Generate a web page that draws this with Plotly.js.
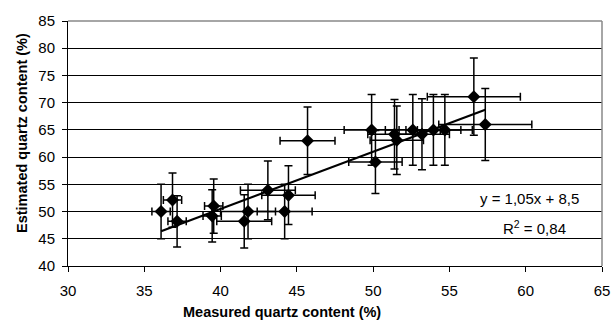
<!DOCTYPE html>
<html><head><meta charset="utf-8">
<script src="https://cdn.plot.ly/plotly-3.0.1.min.js"></script>
<style>html,body{margin:0;padding:0;background:#fff}#chart{width:611px;height:332px}</style>
</head><body><div id="chart"></div>
<script>
const measured = [36.1, 36.85, 37.15, 39.55, 39.45, 41.55, 41.8, 43.1, 44.45, 44.2, 45.7, 49.9, 50.15, 51.4, 51.55, 52.6, 53.2, 53.95, 54.7, 56.6, 57.35];
const estimated = [50.0, 52.1, 48.2, 51.0, 49.2, 48.2, 50.0, 53.9, 53.0, 50.0, 63.0, 65.0, 59.1, 64.2, 63.1, 65.0, 64.2, 65.0, 65.0, 71.1, 66.0];
const estimatedErr = [5.0, 5.0, 4.7, 5.0, 4.8, 4.9, 5.0, 5.4, 5.4, 5.0, 6.2, 6.5, 5.8, 6.4, 6.3, 6.5, 6.5, 6.5, 6.5, 7.1, 6.6];
const measuredErr = [0.6, 0.6, 0.6, 0.6, 0.6, 1.8, 1.8, 1.8, 1.75, 1.8, 1.8, 1.8, 1.75, 1.75, 1.75, 1.8, 1.8, 1.8, 1.8, 3.05, 3.05];
const trendX = [36.1, 57.35];
const trendY = [46.4, 68.7];
const eqText = 'y = 1,05x + 8,5';
const r2Text = 'R<sup>2</sup> = 0,84';
const xTitle = 'Measured quartz content (%)';
const yTitle = 'Estimated quartz content (%)';

const font = 'Liberation Sans, Arial, sans-serif';
const data = [
  {x: measured, y: estimated, type: 'scatter', mode: 'markers',
   marker: {symbol: 'diamond', size: 10, color: '#000'},
   error_y: {type: 'data', array: estimatedErr, visible: true, color: '#000', thickness: 1.5, width: 4},
   error_x: {type: 'data', array: measuredErr, visible: true, color: '#000', thickness: 1.5, width: 4},
   showlegend: false},
  {x: trendX, y: trendY, type: 'scatter', mode: 'lines',
   line: {color: '#000', width: 2.2}, showlegend: false}
];
const layout = {
  width: 611, height: 332,
  margin: {l: 68, r: 9, t: 21, b: 66},
  paper_bgcolor: '#fff', plot_bgcolor: '#fff',
  font: {family: font, size: 15, color: '#000'},
  xaxis: {range: [30, 65], tick0: 30, dtick: 5, showgrid: false, zeroline: false,
    showline: true, linecolor: '#000', linewidth: 1, ticks: 'outside', ticklen: 5, tickcolor: '#000',
    tickfont: {size: 15}, ticklabelstandoff: 6},
  yaxis: {range: [40, 85], tick0: 40, dtick: 5, showgrid: true, gridcolor: '#000', gridwidth: 1, zeroline: false,
    showline: true, linecolor: '#000', linewidth: 1, ticks: 'outside', ticklen: 5, tickcolor: '#000',
    tickfont: {size: 15}, ticklabelstandoff: 4},
  shapes: [
    {type: 'line', xref: 'paper', yref: 'paper', x0: 0, x1: 1, y0: 1, y1: 1, line: {color: '#888', width: 1.5}},
    {type: 'line', xref: 'paper', yref: 'paper', x0: 1, x1: 1, y0: 0, y1: 1, line: {color: '#888', width: 1.5}}
  ],
  annotations: [
    {x: 60.28, y: 52.46, xref: 'x', yref: 'y', text: eqText, showarrow: false, font: {size: 15}},
    {x: 60.55, y: 47.13, xref: 'x', yref: 'y', text: r2Text, showarrow: false, font: {size: 15}},
    {x: 0.4, y: -0.188, xref: 'paper', yref: 'paper', xanchor: 'center', yanchor: 'middle',
     text: '<b>' + xTitle + '</b>', showarrow: false, font: {size: 14.5}},
    {x: -0.0861, y: 0.543, xref: 'paper', yref: 'paper', xanchor: 'center', yanchor: 'middle', textangle: -90,
     text: '<b>' + yTitle + '</b>', showarrow: false, font: {size: 14.5}}
  ]
};
Plotly.newPlot('chart', data, layout, {staticPlot: true, displayModeBar: false});
</script></body></html>
